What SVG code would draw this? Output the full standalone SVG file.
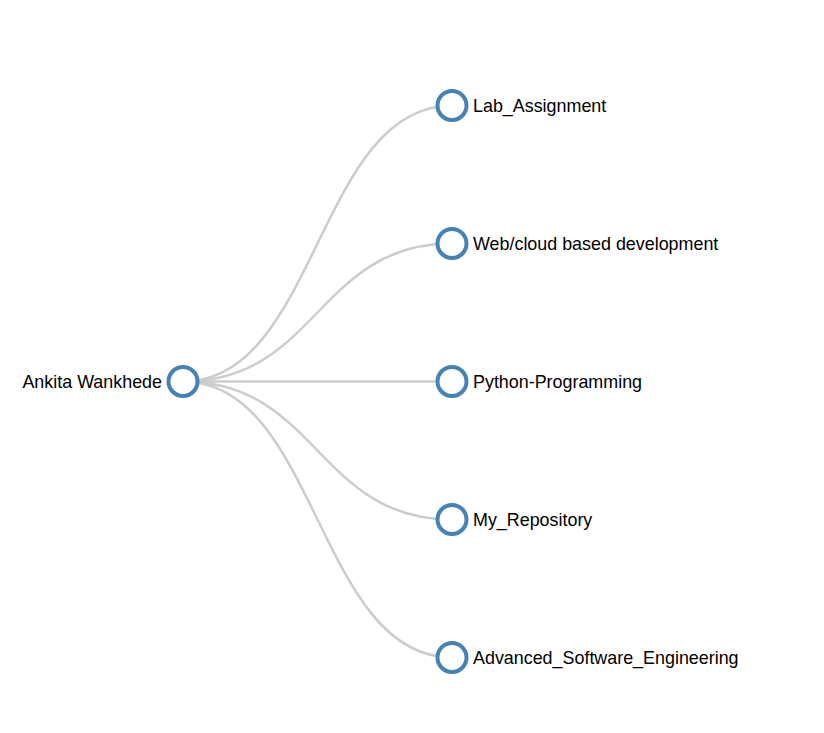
<svg xmlns="http://www.w3.org/2000/svg" width="824" height="733" viewBox="0 0 824 733">
<style>
.link{fill:none;stroke:#ccc;stroke-width:2.5}
.node circle{fill:#fff;stroke:steelblue;stroke-width:4}
.node text{font-family:"Liberation Sans",Arial,sans-serif;font-size:17.9px;fill:#000}
</style>
<rect width="824" height="733" fill="#fff"/>
<g id="links">
<path class="link" d="M183,381.5C317.5,381.5 317.5,105.5 452,105.5"/>
<path class="link" d="M183,381.5C317.5,381.5 317.5,243.5 452,243.5"/>
<path class="link" d="M183,381.5C317.5,381.5 317.5,381.5 452,381.5"/>
<path class="link" d="M183,381.5C317.5,381.5 317.5,519.5 452,519.5"/>
<path class="link" d="M183,381.5C317.5,381.5 317.5,657.5 452,657.5"/>
</g>
<g id="node-root" class="node" transform="translate(183,381.5)"><circle r="14.5"/><text x="-21" dy="0.35em" text-anchor="end">Ankita Wankhede</text></g>
<g id="node-lab" class="node" transform="translate(452,105.5)"><circle r="14.5"/><text x="21" dy="0.35em">Lab_Assignment</text></g>
<g id="node-web" class="node" transform="translate(452,243.5)"><circle r="14.5"/><text x="21" dy="0.35em">Web/cloud based development</text></g>
<g id="node-python" class="node" transform="translate(452,381.5)"><circle r="14.5"/><text x="21" dy="0.35em">Python-Programming</text></g>
<g id="node-repo" class="node" transform="translate(452,519.5)"><circle r="14.5"/><text x="21" dy="0.35em">My_Repository</text></g>
<g id="node-ase" class="node" transform="translate(452,657.5)"><circle r="14.5"/><text x="21" dy="0.35em">Advanced_Software_Engineering</text></g>
</svg>
